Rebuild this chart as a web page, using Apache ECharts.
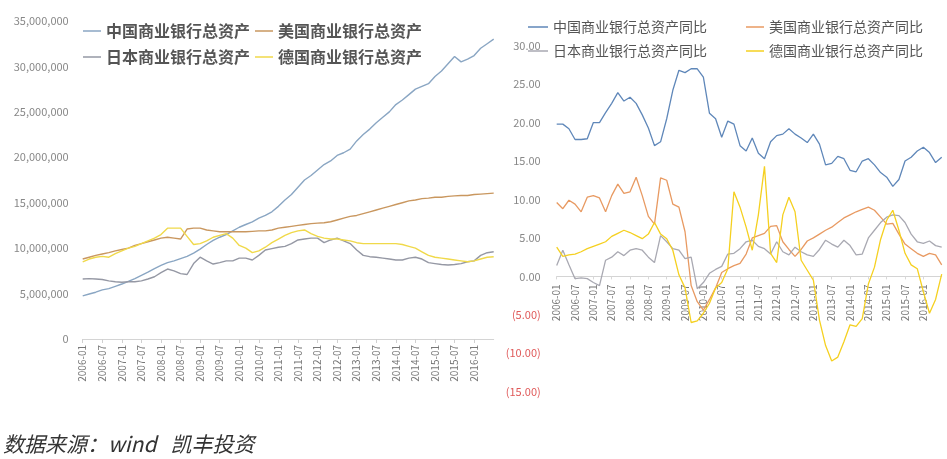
<!DOCTYPE html>
<html><head><meta charset="utf-8">
<script src="https://cdn.jsdelivr.net/npm/echarts@6/dist/echarts.min.js"></script>
<style>html,body{margin:0;padding:0;background:#fff}#c{width:947px;height:459px}</style>
</head><body><div id="c"></div>
<script>
const categories = [
'2006-01','2006-03','2006-05','2006-07','2006-09','2006-11',
'2007-01','2007-03','2007-05','2007-07','2007-09','2007-11',
'2008-01','2008-03','2008-05','2008-07','2008-09','2008-11',
'2009-01','2009-03','2009-05','2009-07','2009-09','2009-11',
'2010-01','2010-03','2010-05','2010-07','2010-09','2010-11',
'2011-01','2011-03','2011-05','2011-07','2011-09','2011-11',
'2012-01','2012-03','2012-05','2012-07','2012-09','2012-11',
'2013-01','2013-03','2013-05','2013-07','2013-09','2013-11',
'2014-01','2014-03','2014-05','2014-07','2014-09','2014-11',
'2015-01','2015-03','2015-05','2015-07','2015-09','2015-11',
'2016-01','2016-03','2016-05','2016-07'];

// total assets, millions
const chinaAssets = [4.75,4.95,5.15,5.4,5.55,5.8,6.05,6.35,6.65,7.0,
7.35,7.75,8.1,8.4,8.6,8.85,9.1,9.45,9.9,10.4,
10.85,11.2,11.5,11.9,12.3,12.6,12.9,13.3,13.6,14.0,
14.6,15.3,15.9,16.7,17.5,18.0,18.6,19.2,19.6,20.2,
20.5,20.9,21.8,22.5,23.1,23.8,24.4,25.0,25.8,26.3,
26.9,27.5,27.8,28.1,28.9,29.5,30.3,31.1,30.5,30.8,
31.2,32.0,32.5,33.0];
const usAssets = [8.8,9.0,9.2,9.35,9.5,9.7,9.85,10.0,10.3,10.5,
10.7,10.9,11.1,11.2,11.1,11.0,12.1,12.2,12.2,12.0,
11.9,11.8,11.8,11.8,11.8,11.8,11.85,11.9,11.9,12.0,
12.2,12.3,12.4,12.5,12.6,12.7,12.75,12.8,12.9,13.1,
13.3,13.5,13.6,13.8,14.0,14.2,14.4,14.6,14.8,15.0,
15.2,15.3,15.45,15.5,15.6,15.6,15.7,15.75,15.8,15.8,
15.9,15.95,16.0,16.05];
const japanAssets = [6.6,6.65,6.6,6.55,6.4,6.3,6.25,6.3,6.3,6.4,
6.6,6.85,7.3,7.7,7.5,7.2,7.1,8.3,9.0,8.6,
8.25,8.4,8.6,8.6,8.9,8.9,8.7,9.2,9.8,9.95,
10.1,10.2,10.5,10.9,11.0,11.1,11.1,10.6,10.9,11.1,
10.8,10.5,9.8,9.2,9.06,9.0,8.9,8.8,8.7,8.7,
8.9,9.0,8.8,8.4,8.3,8.2,8.15,8.2,8.3,8.5,
8.6,9.2,9.5,9.6];
const germanyAssets = [8.5,8.8,9.0,9.1,9.0,9.4,9.7,10.0,10.2,10.5,
10.8,11.1,11.5,12.2,12.2,12.2,11.3,10.4,10.5,10.8,
11.2,11.4,11.6,11.1,10.3,10.0,9.5,9.7,10.1,10.6,
11.0,11.4,11.7,11.9,12.0,11.6,11.3,11.1,11.0,11.0,
10.9,10.8,10.6,10.5,10.5,10.5,10.5,10.5,10.5,10.4,
10.2,10.0,9.6,9.2,9.0,8.9,8.8,8.7,8.6,8.5,
8.6,8.8,9.0,9.05];

// year-on-year growth, %
const chinaYoY = [19.8,19.8,19.2,17.8,17.8,17.9,20.0,20.0,21.3,22.5,
23.9,22.8,23.3,22.5,21.0,19.3,17.0,17.5,20.5,24.2,
26.8,26.5,27.0,27.0,25.9,21.2,20.5,18.1,20.2,19.8,
17.0,16.3,18.0,16.0,15.3,17.5,18.3,18.5,19.2,18.5,
18.0,17.4,18.5,17.2,14.5,14.7,15.6,15.3,13.8,13.6,
15.0,15.3,14.5,13.5,12.9,11.7,12.6,15.0,15.5,16.3,
16.8,16.1,14.8,15.5];
const usYoY = [9.6,8.8,9.9,9.4,8.4,10.3,10.5,10.2,8.4,10.5,
12.0,10.8,11.0,12.9,10.5,7.8,6.8,12.8,12.5,9.4,
9.0,5.8,-1.2,-3.3,-4.4,-3.0,-1.5,0.5,1.0,1.4,
1.7,2.9,5.0,5.3,5.6,6.5,6.6,4.5,3.5,2.6,
3.5,4.6,5.0,5.5,6.0,6.4,7.0,7.6,8.0,8.4,
8.7,9.0,8.6,7.7,6.8,6.9,5.5,4.2,3.6,3.0,
2.6,3.0,2.8,1.5];
const japanYoY = [1.4,3.4,1.5,-0.3,-0.2,-0.3,-0.8,-1.2,2.1,2.5,
3.2,2.7,3.4,3.6,3.4,2.5,1.8,5.3,4.5,3.6,
3.4,2.3,2.5,-1.6,-0.8,0.4,0.9,1.3,2.9,3.0,
3.6,4.5,4.7,3.9,3.6,2.9,4.5,3.2,2.8,3.8,
3.2,2.8,2.6,3.5,4.7,4.2,3.8,4.7,4.0,2.8,
2.9,5.0,6.0,7.0,7.7,8.0,7.9,7.0,5.5,4.5,
4.3,4.6,4.0,3.8];
const germanyYoY = [3.8,2.6,2.8,2.9,3.2,3.6,3.9,4.2,4.5,5.2,
5.6,6.0,5.7,5.3,4.9,5.5,7.0,5.5,4.9,3.4,
0.2,-1.5,-6.0,-5.8,-4.8,-3.5,-1.5,-0.8,1.0,11.0,
9.0,6.4,3.4,8.0,14.3,3.0,1.8,8.0,10.3,8.4,
2.1,0.8,-0.5,-5.7,-9.0,-11.0,-10.5,-8.5,-6.3,-6.5,
-5.5,-1.0,1.2,4.8,7.3,8.6,6.0,3.0,1.5,1.0,
-2.0,-4.8,-3.0,0.3];

const namesL = ['中国商业银行总资产','美国商业银行总资产','日本商业银行总资产','德国商业银行总资产'];
const namesR = ['中国商业银行总资产同比','美国商业银行总资产同比','日本商业银行总资产同比','德国商业银行总资产同比'];
const colorsL = ['#8aa6c3','#c9975f','#9598a4','#f0d94a'];
const colorsR = ['#5f87b9','#e89a62','#a9a9b2','#f5d020'];

const FONT = '"Noto Sans CJK SC", "Noto Sans", sans-serif';
const showIdx = (i) => i % 3 === 0 && i < categories.length - 1;

function lg(name, left, top, size, weight, w, color) {
  return {data:[name], left:left, top:top, padding:0, icon:'rect', itemWidth:w, itemHeight:1.5, itemGap:0,
    itemStyle:{color:color},
    textStyle:{fontSize:size, color:'#555', fontWeight:weight, fontFamily:FONT}};
}

function ser(name, data, color, idx, width) {
  return {name:name, type:'line', data:data, xAxisIndex:idx, yAxisIndex:idx, symbol:'none',
    lineStyle:{color:color, width:width}, itemStyle:{color:color}, animation:false};
}

const chart = echarts.init(document.getElementById('c'));
chart.setOption({
  backgroundColor:'#ffffff',
  animation:false,
  textStyle:{fontFamily:FONT},
  legend:[
    lg(namesL[0], 83, 23, 16, 'bold', 18, colorsL[0]),
    lg(namesL[1], 255, 23, 16, 'bold', 18, colorsL[1]),
    lg(namesL[2], 83, 49, 16, 'bold', 18, colorsL[2]),
    lg(namesL[3], 255, 49, 16, 'bold', 18, colorsL[3]),
    lg(namesR[0], 528, 20, 14, 'normal', 20, colorsR[0]),
    lg(namesR[1], 746, 20, 14, 'normal', 18, colorsR[1]),
    lg(namesR[2], 528, 44, 14, 'normal', 20, colorsR[2]),
    lg(namesR[3], 746, 44, 14, 'normal', 18, colorsR[3])
  ],
  grid:[
    {left:82.7, top:21, width:411, height:318},
    {left:556.7, top:45.7, width:385, height:346}
  ],
  xAxis:[
    {type:'category', gridIndex:0, data:categories, boundaryGap:false,
     axisLine:{lineStyle:{color:'#d4d4d4'}},
     axisTick:{show:true, interval:showIdx, length:4, lineStyle:{color:'#d0d0d0'}},
     axisLabel:{rotate:90, interval:showIdx, fontSize:10, color:'#777', margin:6}},
    {type:'category', gridIndex:1, data:categories, boundaryGap:false, offset:-115.3,
     axisLine:{onZero:false, lineStyle:{color:'#d4d4d4'}},
     axisTick:{show:true, interval:showIdx, length:3, lineStyle:{color:'#d8d8d8'}},
     axisLabel:{rotate:90, interval:showIdx, fontSize:10, color:'#777', margin:8}}
  ],
  yAxis:[
    {type:'value', gridIndex:0, min:0, max:35, interval:5,
     axisLine:{show:false}, axisTick:{show:false}, splitLine:{show:false},
     axisLabel:{formatter:(v)=>(v*1000000).toLocaleString('en-US'), color:'#888', fontSize:11, margin:14}},
    {type:'value', gridIndex:1, min:-15, max:30, interval:5,
     axisLine:{show:false}, axisTick:{show:false}, splitLine:{show:false},
     axisLabel:{formatter:(v)=> v < 0 ? '(' + Math.abs(v).toFixed(2) + ')' : v.toFixed(2),
       color:(v)=> v < 0 ? '#e05a5a' : '#888', fontSize:11, margin:16}}
  ],
  series:[
    ser(namesL[0], chinaAssets, colorsL[0], 0, 1.4),
    ser(namesL[1], usAssets, colorsL[1], 0, 1.4),
    ser(namesL[2], japanAssets, colorsL[2], 0, 1.4),
    ser(namesL[3], germanyAssets, colorsL[3], 0, 1.4),
    ser(namesR[0], chinaYoY, colorsR[0], 1, 1.3),
    ser(namesR[1], usYoY, colorsR[1], 1, 1.3),
    ser(namesR[2], japanYoY, colorsR[2], 1, 1.3),
    ser(namesR[3], germanyYoY, colorsR[3], 1, 1.3)
  ],
  graphic:[
    {type:'text', left:3, top:434,
     style:{text:'数据来源：wind   凯丰投资', fill:'#333', font:'italic 21px ' + FONT}}
  ]
});
</script>
</body></html>
